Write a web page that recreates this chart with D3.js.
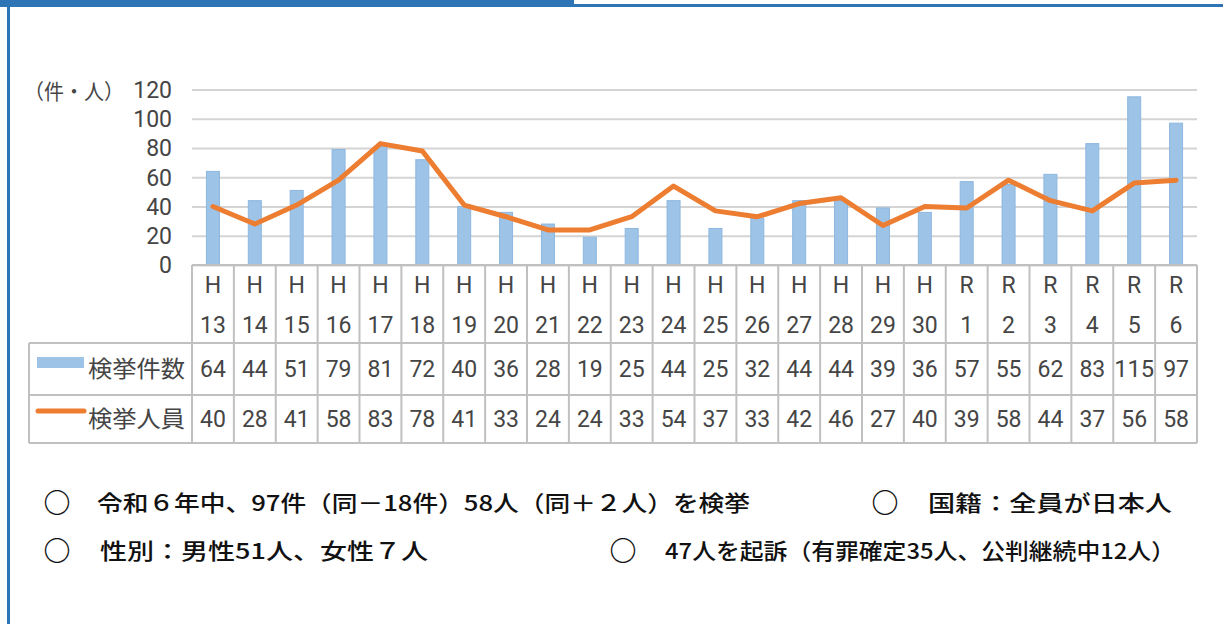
<!DOCTYPE html>
<html>
<head>
<meta charset="utf-8">
<script src="https://cdn.jsdelivr.net/npm/d3@7"></script>
<style>
  body { margin: 0; background: #fff; }
  svg { display: block; }
  text { font-family: "Noto Sans CJK JP", "Noto Sans", sans-serif; }
  .num { font-family: Roboto, "Liberation Sans", sans-serif; }
</style>
</head>
<body>
<div id="chart"></div>
<script>
// data
var eras = ["H","H","H","H","H","H","H","H","H","H","H","H","H","H","H","H","H","H","R","R","R","R","R","R"];
var years = ["13","14","15","16","17","18","19","20","21","22","23","24","25","26","27","28","29","30","1","2","3","4","5","6"];
var cases = [64,44,51,79,81,72,40,36,28,19,25,44,25,32,44,44,39,36,57,55,62,83,115,97];
var persons = [40,28,41,58,83,78,41,33,24,24,33,54,37,33,42,46,27,40,39,58,44,37,56,58];
var yTicks = [0,20,40,60,80,100,120];
var seriesNames = ["検挙件数","検挙人員"];
var notes = [
  ["○", "令和６年中、97件（同－18件）58人（同＋２人）を検挙"],
  ["○", "国籍：全員が日本人"],
  ["○", "性別：男性51人、女性７人"],
  ["○", "47人を起訴（有罪確定35人、公判継続中12人）"]
];

var W = 1223, H = 624;
var svg = d3.select("#chart").append("svg")
  .attr("width", W).attr("height", H);

// frame: thick tab on top left, thin line across, left border
svg.append("rect").attr("x", 0).attr("y", 0).attr("width", 574).attr("height", 7).attr("fill", "#2e75b6");
svg.append("rect").attr("x", 574).attr("y", 4).attr("width", W - 574).attr("height", 3).attr("fill", "#2e75b6");
svg.append("rect").attr("x", 7).attr("y", 0).attr("width", 3).attr("height", H).attr("fill", "#2e75b6");

var idx = d3.range(cases.length);
var x = d3.scaleBand().domain(idx).range([192, 1197]).padding(0);
var y = d3.scaleLinear().domain([0, 120]).range([265, 89.5]);

var gridColor = "#d4d4d4", textColor = "#454545", fs = 23;

// gridlines
var grid = d3.axisLeft(y).tickValues(yTicks).tickFormat("").tickSize(-(1197 - 192));
svg.append("g")
   .attr("transform", "translate(192,0)")
   .call(grid)
   .call(function(g) { g.select(".domain").remove(); })
   .selectAll("line")
   .attr("stroke", gridColor).attr("stroke-width", 2);

// y labels
svg.append("g").selectAll("text")
   .data(yTicks)
   .enter().append("text")
   .attr("class", "num")
   .attr("x", 172)
   .attr("y", function(d) { return y(d); })
   .attr("dy", "0.36em")
   .attr("text-anchor", "end")
   .attr("font-size", fs)
   .attr("fill", textColor)
   .text(function(d) { return d; });

svg.append("text")
   .attr("x", 24).attr("y", y(120) + 2).attr("dy", "0.36em")
   .attr("font-size", 21).attr("fill", textColor)
   .attr("textLength", 100).attr("lengthAdjust", "spacingAndGlyphs")
   .text("（件・人）");

// bars
var bw = 13;
svg.append("g").selectAll("rect")
   .data(cases)
   .enter().append("rect")
   .attr("x", function(d, i) { return x(i) + x.bandwidth() / 2 - bw / 2; })
   .attr("y", function(d) { return y(d); })
   .attr("width", bw)
   .attr("height", function(d) { return y(0) - y(d); })
   .attr("fill", "#9dc3e6")
   .attr("stroke", "#8db7e0")
   .attr("stroke-width", 1);

// line
var line = d3.line()
  .x(function(d, i) { return x(i) + x.bandwidth() / 2; })
  .y(function(d) { return y(d); });

svg.append("path")
   .datum(persons)
   .attr("d", line)
   .attr("fill", "none")
   .attr("stroke", "#ed7d31")
   .attr("stroke-width", 5)
   .attr("stroke-linejoin", "round")
   .attr("stroke-linecap", "round");

// data table
var rows = [265, 343, 395, 443];
var tbl = svg.append("g").attr("stroke", "#c0c0c0").attr("stroke-width", 2).attr("fill", "none");
tbl.append("line").attr("x1", 192).attr("x2", 1197).attr("y1", rows[0]).attr("y2", rows[0]);
[1, 2, 3].forEach(function(r) {
  tbl.append("line").attr("x1", 29).attr("x2", 1197).attr("y1", rows[r]).attr("y2", rows[r]);
});
idx.concat([cases.length]).forEach(function(i) {
  var xx = i < cases.length ? x(i) : 1197;
  tbl.append("line").attr("x1", xx).attr("x2", xx).attr("y1", rows[0]).attr("y2", rows[3]);
});
tbl.append("line").attr("x1", 29).attr("x2", 29).attr("y1", rows[1]).attr("y2", rows[3]);

var cells = svg.append("g").attr("font-size", fs).attr("fill", textColor).attr("text-anchor", "middle");
function cellRow(vals, cy) {
  cells.append("g").selectAll("text")
    .data(vals)
    .enter().append("text")
    .attr("class", "num")
    .attr("x", function(d, i) { return x(i) + x.bandwidth() / 2; })
    .attr("y", cy)
    .attr("dy", "0.36em")
    .attr("textLength", function(d) { return String(d).length > 2 ? 40 : null; })
    .attr("lengthAdjust", "spacingAndGlyphs")
    .text(function(d) { return d; });
}
cellRow(eras, 285);
cellRow(years, 325);
cellRow(cases, 369);
cellRow(persons, 419);

// legend keys
svg.append("rect").attr("x", 37).attr("y", 357).attr("width", 47).attr("height", 11).attr("fill", "#9dc3e6");
svg.append("line").attr("x1", 38).attr("x2", 84).attr("y1", 411).attr("y2", 411)
   .attr("stroke", "#ed7d31").attr("stroke-width", 5).attr("stroke-linecap", "round");
svg.append("text").attr("x", 88).attr("y", 369).attr("dy", "0.36em")
   .attr("font-size", fs).attr("fill", textColor)
   .attr("textLength", 97).attr("lengthAdjust", "spacingAndGlyphs").text(seriesNames[0]);
svg.append("text").attr("x", 88).attr("y", 419).attr("dy", "0.36em")
   .attr("font-size", fs).attr("fill", textColor)
   .attr("textLength", 97).attr("lengthAdjust", "spacingAndGlyphs").text(seriesNames[1]);

// notes below the chart
var notePos = [
  { cx: 57, tx: 97, cy: 503, end: 750 },
  { cx: 885, tx: 928, cy: 503, end: 1172 },
  { cx: 57, tx: 100, cy: 551, end: 428 },
  { cx: 623, tx: 665, cy: 551, end: 1175 }
];
var ng = svg.append("g").attr("fill", "#111");
notes.forEach(function(n, i) {
  var p = notePos[i];
  ng.append("text").attr("x", p.cx).attr("y", p.cy).attr("dy", "0.36em")
    .attr("text-anchor", "middle").attr("font-size", 27).attr("font-weight", 900).text(n[0]);
  ng.append("text").attr("x", p.tx).attr("y", p.cy).attr("dy", "0.36em")
    .attr("font-size", 22).attr("font-weight", 500)
    .attr("textLength", p.end - p.tx).attr("lengthAdjust", "spacingAndGlyphs")
    .text(n[1]);
});
</script>
</body>
</html>
